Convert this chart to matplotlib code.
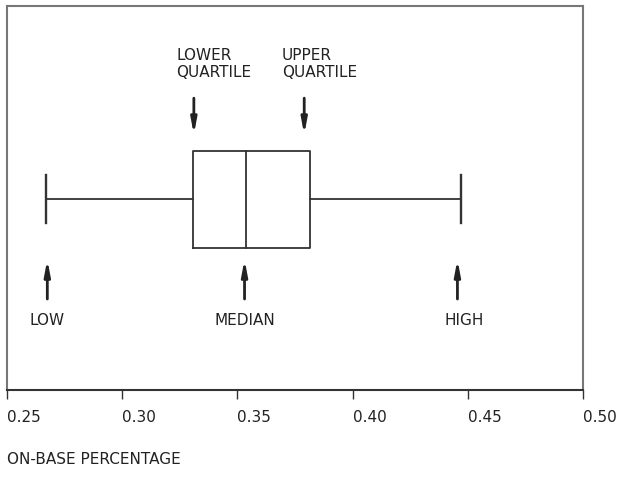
import numpy as np
import matplotlib
matplotlib.use("Agg")
import matplotlib.pyplot as plt

plt.rcParams['font.family'] = ['DejaVu Sans']

# five-number summary of on-base percentage
low = 0.267
lower_quartile = 0.3306
median = 0.3536
upper_quartile = 0.3815
high = 0.447

tick_values = [0.25, 0.30, 0.35, 0.40, 0.45, 0.50]
tick_labels = ['0.25', '0.30', '0.35', '0.40', '0.45', '0.50']

fig = plt.figure(figsize=(6.19, 4.90), dpi=100)
ax = fig.add_axes([7 / 619, 100 / 490, 576 / 619, 384 / 490])

box_y = 0.497
box_h = 0.253
cap_h = 0.125
line_kw = dict(color='#333333', lw=1.3)

# box and median
ax.plot([lower_quartile, upper_quartile, upper_quartile, lower_quartile, lower_quartile],
        [box_y - box_h / 2, box_y - box_h / 2, box_y + box_h / 2, box_y + box_h / 2, box_y - box_h / 2],
        **line_kw)
ax.plot([median, median], [box_y - box_h / 2, box_y + box_h / 2], **line_kw)
# whiskers
ax.plot([low, lower_quartile], [box_y, box_y], **line_kw)
ax.plot([upper_quartile, high], [box_y, box_y], **line_kw)
ax.plot([low, low], [box_y - cap_h / 2, box_y + cap_h / 2], color='#333333', lw=1.7)
ax.plot([high, high], [box_y - cap_h / 2, box_y + cap_h / 2], color='#333333', lw=1.7)

arrow_kw = dict(arrowstyle='-|>,head_length=0.9,head_width=0.17', color='#222222', lw=2,
                shrinkA=0, shrinkB=0)

# arrows pointing down at quartiles
for xv in [lower_quartile + 0.0005, upper_quartile - 0.0025]:
    ax.annotate('', xy=(xv, 0.665), xytext=(xv, 0.76), arrowprops=arrow_kw)
# arrows pointing up at low, median, high
for xv in [low + 0.0005, median - 0.0005, high - 0.0015]:
    ax.annotate('', xy=(xv, 0.34), xytext=(xv, 0.237), arrowprops=arrow_kw)

txt_kw = dict(fontsize=11, color='#222222')
ax.text(0.3236, 0.848, 'LOWER\nQUARTILE', ha='left', va='center', linespacing=1.15, **txt_kw)
ax.text(0.3692, 0.848, 'UPPER\nQUARTILE', ha='left', va='center', linespacing=1.15, **txt_kw)
ax.text(low + 0.0005, 0.182, 'LOW', ha='center', va='center', **txt_kw)
ax.text(median - 0.0005, 0.182, 'MEDIAN', ha='center', va='center', **txt_kw)
ax.text(high + 0.0015, 0.182, 'HIGH', ha='center', va='center', **txt_kw)

ax.set_xlim(0.25, 0.50)
ax.set_ylim(0, 1)
ax.set_yticks([])
ax.set_xticks(tick_values)
ax.set_xticklabels(tick_labels, ha='left', fontsize=11, color='#222222')
ax.tick_params(axis='x', length=6.5, width=1, color='#333333', pad=8)

for side in ['left', 'top', 'right']:
    ax.spines[side].set_color('#777777')
    ax.spines[side].set_linewidth(1.5)
ax.spines['bottom'].set_color('#333333')
ax.spines['bottom'].set_linewidth(1.5)

fig.text(7 / 619, 1 - 459 / 490, 'ON-BASE PERCENTAGE', ha='left', va='center', **txt_kw)

fig.savefig('out.png', dpi=100)
